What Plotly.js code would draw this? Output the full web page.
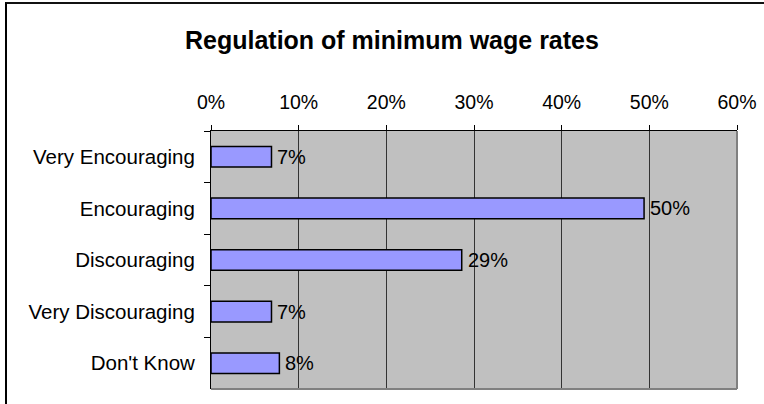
<!DOCTYPE html>
<html>
<head>
<meta charset="utf-8">
<script src="https://cdn.plot.ly/plotly-3.0.1.min.js"></script>
<style>
  html, body { margin: 0; padding: 0; background: #fff; }
  #wrap { position: relative; width: 764px; height: 404px; overflow: hidden; }
  #chart { position: absolute; left: 0; top: 0; width: 764px; height: 404px; }
  #frame { position: absolute; left: 5px; top: 2px; width: 800px; height: 450px;
           border-left: 2px solid #000; border-top: 2px solid #111; pointer-events: none; }
</style>
</head>
<body>
<div id="wrap">
  <div id="chart"></div>
  <div id="frame"></div>
</div>
<script>
const categories = ["Very Encouraging", "Encouraging", "Discouraging", "Very Discouraging", "Don't Know"];
const values = [0.069, 0.494, 0.286, 0.069, 0.078];
const valueLabels = ["7%", "50%", "29%", "7%", "8%"];
const xTickValues = [0, 0.1, 0.2, 0.3, 0.4, 0.5, 0.6];
const xTickLabels = ["0%", "10%", "20%", "30%", "40%", "50%", "60%"];

const FONT = "Liberation Sans, Arial, sans-serif";

const trace = {
  type: "bar",
  orientation: "h",
  y: categories,
  x: values,
  width: 0.4,
  marker: { color: "#9999FF", line: { color: "#000", width: 1.5 } },
  hoverinfo: "none"
};

const annotations = categories.map((c, i) => ({
  x: values[i], y: c, xref: "x", yref: "y",
  text: valueLabels[i], showarrow: false,
  xanchor: "left", yanchor: "middle", xshift: 4,
  font: { family: FONT, size: 20, color: "#000" }
}));

const layout = {
  width: 764,
  height: 404,
  margin: { l: 211, r: 27, t: 131, b: 15, pad: 0 },
  paper_bgcolor: "#ffffff",
  plot_bgcolor: "#C0C0C0",
  showlegend: false,
  title: {
    text: "<b>Regulation of minimum wage rates</b>",
    font: { family: FONT, size: 25, color: "#000" },
    xref: "container", x: 0.513, xanchor: "center",
    yref: "container", y: 1 - 40 / 404, yanchor: "middle"
  },
  xaxis: {
    side: "top",
    range: [0, 0.6],
    tickvals: xTickValues,
    ticktext: xTickLabels,
    ticks: "outside",
    ticklen: 5,
    tickcolor: "#000",
    tickwidth: 1,
    ticklabelstandoff: 8,
    showline: true,
    linecolor: "#000",
    linewidth: 1,
    showgrid: true,
    gridcolor: "#333",
    gridwidth: 1,
    zeroline: false,
    tickfont: { family: FONT, size: 19.5, color: "#000" },
    fixedrange: true
  },
  yaxis: {
    type: "category",
    autorange: "reversed",
    tickson: "boundaries",
    ticks: "outside",
    ticklen: 6,
    tickcolor: "#000",
    ticklabelstandoff: 11,
    showline: true,
    linecolor: "#000",
    linewidth: 1,
    showgrid: false,
    zeroline: false,
    tickfont: { family: FONT, size: 20.5, color: "#000" },
    fixedrange: true
  },
  annotations: annotations,
  shapes: [
    { type: "line", xref: "paper", yref: "paper", x0: 1, x1: 1, y0: 0, y1: 1,
      line: { color: "#808080", width: 2 }, layer: "above" },
    { type: "line", xref: "paper", yref: "paper", x0: 0, x1: 1, y0: 0, y1: 0,
      line: { color: "#808080", width: 2 }, layer: "above" }
  ]
};

Plotly.newPlot("chart", [trace], layout, { staticPlot: true, displayModeBar: false });
</script>
</body>
</html>
